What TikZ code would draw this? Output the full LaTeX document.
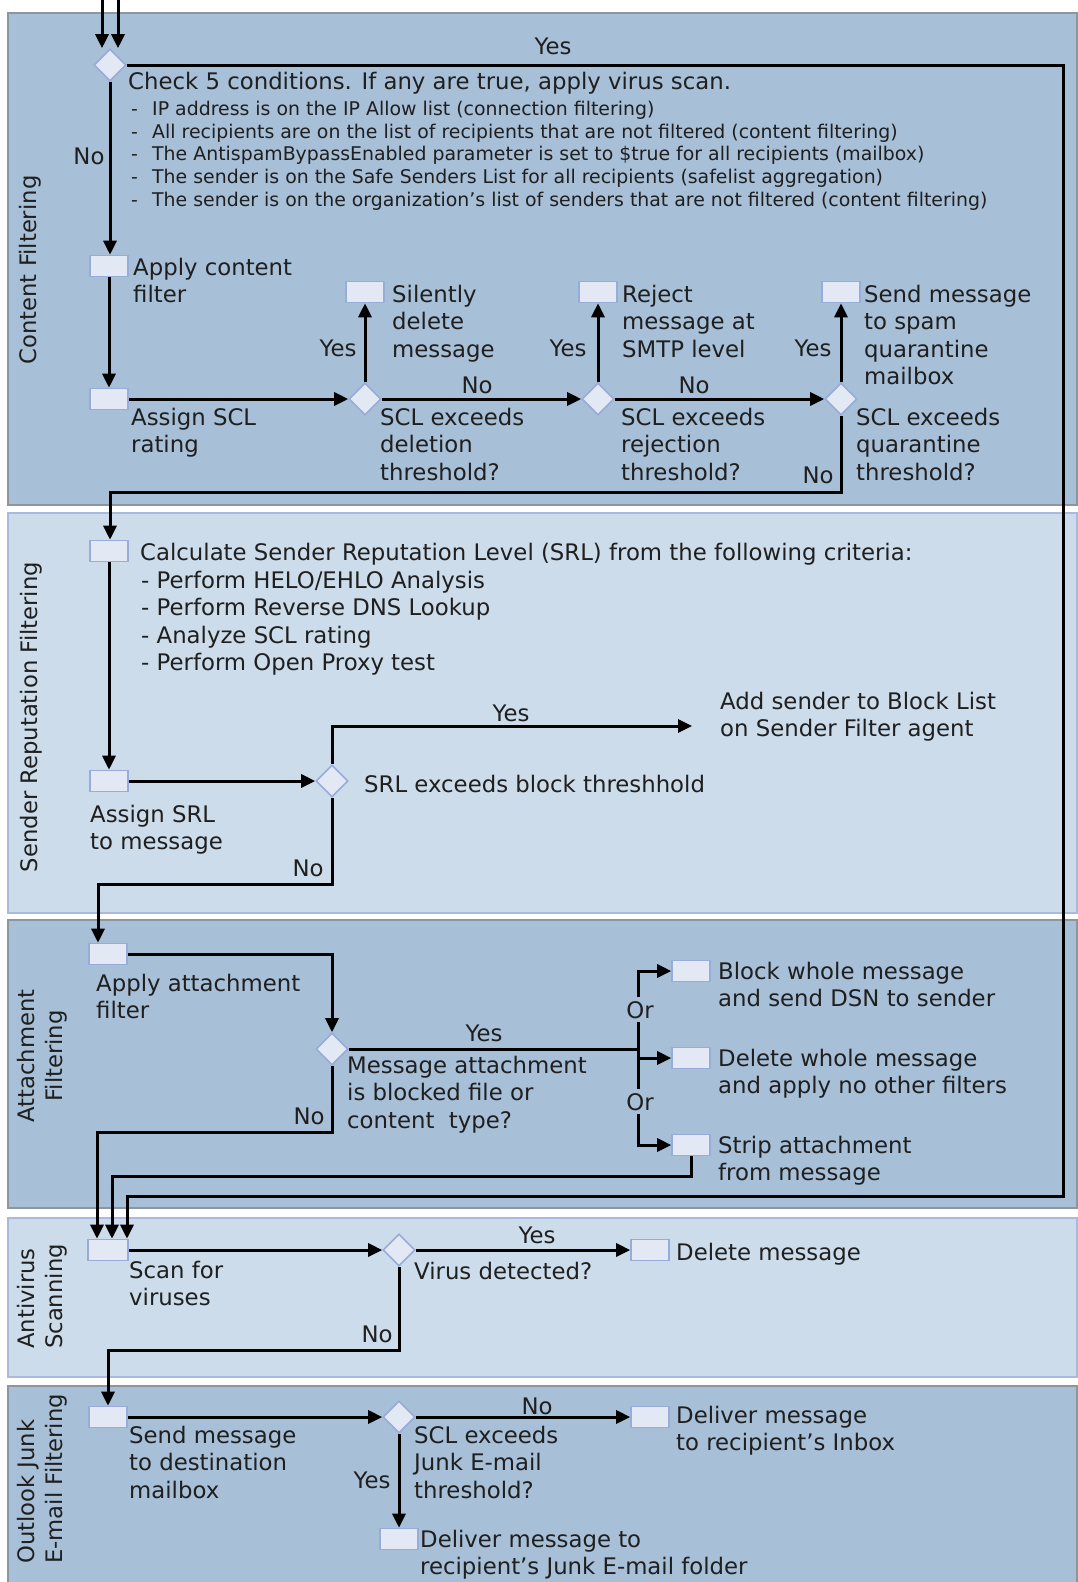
\documentclass[tikz,border=0pt]{standalone}
\usepackage{fontspec}
\setmainfont{DejaVu Sans}
\usetikzlibrary{arrows.meta,shapes.geometric}

\definecolor{lanedark}{HTML}{A7BFD7}
\definecolor{lanelight}{HTML}{CCDCEA}
\definecolor{edgegray}{HTML}{8C969F}
\definecolor{edgeblue}{HTML}{A9B9DF}
\definecolor{boxfill}{HTML}{E2E9F4}
\definecolor{boxedge}{HTML}{98ACDA}
\definecolor{ink}{HTML}{1F1F1F}

\newcommand{\dashitem}{\makebox[21pt][l]{-}}

\begin{document}
\begin{tikzpicture}[x=1pt,y=-1pt,
  lanedk/.style={fill=lanedark,draw=edgegray,line width=1.4pt},
  lanelt/.style={fill=lanelight,draw=edgeblue,line width=1.4pt},
  stepbox/.style={rectangle,fill=boxfill,draw=boxedge,line width=1.6pt,minimum width=38pt,minimum height=21pt,inner sep=0pt},
  decide/.style={diamond,fill=boxfill,draw=boxedge,line width=1.6pt,minimum width=32pt,minimum height=32pt,inner sep=0pt,aspect=1},
  flow/.style={line width=3pt,draw=black,-{Triangle[length=14pt,width=13pt]}},
  wire/.style={line width=3pt,draw=black},
  txt/.style={anchor=north west,inner sep=0pt,align=left,text=ink,yshift=1pt,font=\fontsize{22.8pt}{27.3pt}\selectfont},
  one/.style={anchor=base west,inner sep=0pt,text=ink,yshift=-1pt,font=\fontsize{22.8pt}{27.3pt}\selectfont},
  tag/.style={anchor=base,inner sep=0pt,text=ink,yshift=-1pt,font=\fontsize{22.8pt}{27.3pt}\selectfont},
  small/.style={anchor=north west,inner sep=0pt,align=left,text=ink,yshift=0.7pt,font=\fontsize{18.9pt}{22.7pt}\selectfont},
  lanename/.style={rotate=90,inner sep=0pt,text=ink,font=\fontsize{22.7pt}{27.5pt}\selectfont},
]
\useasboundingbox (0,0) rectangle (1078,1582);
\fill[white] (0,0) rectangle (1078,1582);
\clip (0,0) rectangle (1078,1582);

% swim lanes
\draw[lanedk] (8,13) rectangle (1077,505);
\draw[lanelt] (8,513) rectangle (1077,913);
\draw[lanedk] (8,920) rectangle (1077,1208);
\draw[lanelt] (8,1218) rectangle (1077,1377);
\draw[lanedk] (8,1386) rectangle (1077,1600);

% lane titles
\node[lanename] (lnContent) at (30,270) {Content Filtering};
\node[lanename] (lnSender) at (31,717) {Sender Reputation Filtering};
\node[lanename,align=center] (lnAttach) at (42,1056) {Attachment\\Filtering};
\node[lanename,align=left,anchor=west] (lnAV) at (42,1349) {Antivirus\\Scanning};
\node[lanename,align=left,anchor=west] (lnJunk) at (42,1564) {Outlook Junk\\E-mail Filtering};

% ---------- content filtering ----------
\node[decide] (d0) at (110,65) {};
\coordinate (in1) at (102,0);
\coordinate (in2) at (118,0);
\node[tag] (yes0) at (553,53.5) {Yes};
\node[one] (chk) at (128,88.5) {Check 5 conditions. If any are true, apply virus scan.};
\node[small] (crit) at (131,101.5) {\dashitem IP address is on the IP Allow list (connection filtering)\\
\dashitem All recipients are on the list of recipients that are not filtered (content filtering)\\
\dashitem The AntispamBypassEnabled parameter is set to \$true for all recipients (mailbox)\\
\dashitem The sender is on the Safe Senders List for all recipients (safelist aggregation)\\
\dashitem The sender is on the organization’s list of senders that are not filtered (content filtering)};
\node[tag] (no0) at (89,163.5) {No};

\node[stepbox] (b1) at (109,266) {};
\node[txt] (t1) at (133,259) {Apply content\\filter};
\node[stepbox] (b2) at (109,399) {};
\node[txt] (t2) at (131,409) {Assign SCL\\rating};

\node[decide] (d1) at (365,399) {};
\node[stepbox] (s1) at (365,292) {};
\node[txt] (t3) at (392,286) {Silently\\delete\\message};
\node[tag] (yes1) at (338,355.5) {Yes};
\node[txt] (t4) at (380,409) {SCL exceeds\\deletion\\threshold?};
\node[tag] (no1) at (477,392) {No};

\node[decide] (d2) at (598,399) {};
\node[stepbox] (s2) at (598,292) {};
\node[txt] (t5) at (622,286) {Reject\\message at\\SMTP level};
\node[tag] (yes2) at (568,355.5) {Yes};
\node[txt] (t6) at (621,409) {SCL exceeds\\rejection\\threshold?};
\node[tag] (no2) at (694,392) {No};

\node[decide] (d3) at (841,399) {};
\node[stepbox] (s3) at (841,292) {};
\node[txt] (t7) at (864,286) {Send message\\to spam\\quarantine\\mailbox};
\node[tag] (yes3) at (813,355.5) {Yes};
\node[txt] (t8) at (856,409) {SCL exceeds\\quarantine\\threshold?};
\node[tag] (no3) at (818,482.5) {No};

% ---------- sender reputation ----------
\node[stepbox] (c1) at (109,551) {};
\node[one] (t9) at (140,559.5) {Calculate Sender Reputation Level (SRL) from the following criteria:};
\node[txt] (t10) at (141,572) {- Perform HELO/EHLO Analysis\\- Perform Reverse DNS Lookup\\- Analyze SCL rating\\- Perform Open Proxy test};
\node[stepbox] (c2) at (109,781) {};
\node[txt] (t11) at (90,806) {Assign SRL\\to message};
\node[decide] (d4) at (332,781) {};
\node[one] (t12) at (364,791.5) {SRL exceeds block threshhold};
\coordinate (k2) at (692,726);
\node[tag] (yes4) at (511,720.5) {Yes};
\node[txt] (t13) at (720,693) {Add sender to Block List\\on Sender Filter agent};
\node[tag] (no4) at (308,875.5) {No};

% ---------- attachment filtering ----------
\node[stepbox] (a1) at (108,954) {};
\node[txt] (t14) at (96,975) {Apply attachment\\filter};
\node[decide] (d5) at (332,1049) {};
\node[txt] (t15) at (347,1057) {Message attachment\\is blocked file or\\content\ \ type?};
\node[tag] (yes5) at (484,1040.5) {Yes};
\node[tag] (no5) at (309,1123.5) {No};
\node[stepbox] (x1) at (691,971) {};
\node[stepbox] (x2) at (691,1058) {};
\node[stepbox] (x3) at (691,1145) {};
\node[txt] (t16) at (718,963) {Block whole message\\and send DSN to sender};
\node[txt] (t17) at (718,1050) {Delete whole message\\and apply no other filters};
\node[txt] (t18) at (718,1137) {Strip attachment\\from message};
\coordinate (bus) at (638,1049);
\coordinate (busmid) at (638,1058);

% ---------- antivirus scanning ----------
\node[stepbox,minimum width=40pt] (av1) at (108,1250) {};
\node[txt] (t19) at (129,1262) {Scan for\\viruses};
\node[decide] (d6) at (399,1250) {};
\node[one] (t20) at (414,1278.5) {Virus detected?};
\node[stepbox] (v1) at (650,1250) {};
\node[one] (t21) at (676,1259.5) {Delete message};
\node[tag] (yes6) at (537,1242.5) {Yes};
\node[tag] (no6) at (377,1341.5) {No};

% ---------- outlook junk e-mail filtering ----------
\node[stepbox] (j1) at (108,1417) {};
\node[txt] (t22) at (129,1427) {Send message\\to destination\\mailbox};
\node[decide] (d7) at (399,1417) {};
\node[txt] (t23) at (414,1427) {SCL exceeds\\Junk E-mail\\threshold?};
\node[stepbox] (j2) at (650,1417) {};
\node[tag] (no7) at (537,1413) {No};
\node[txt] (t24) at (676,1407) {Deliver message\\to recipient’s Inbox};
\node[stepbox] (j3) at (399,1539) {};
\node[tag] (yes7) at (372,1487) {Yes};
\node[txt] (t25) at (420,1531) {Deliver message to\\recipient’s Junk E-mail folder};

% ---------- connectors ----------
\draw[flow] (in1) -- (in1 |- d0.north);
\draw[flow] (in2) -- (in2 |- d0.north);
\draw[flow] (d0.south) -- (d0.south |- b1.north);
\draw[flow] (b1.south) -- (b2.north);
\draw[flow] (b2.east) -- (d1.west);
\draw[flow] (d1.north) -- (s1.south);
\draw[flow] (d1.east) -- (d2.west);
\draw[flow] (d2.north) -- (s2.south);
\draw[flow] (d2.east) -- (d3.west);
\draw[flow] (d3.north) -- (s3.south);
\coordinate (k1) at (841,492);
\coordinate (k1b) at (110,492);
\draw[flow] (d3.south) -- (k1) -- (k1b) -- (k1b |- c1.north);

\draw[flow] (c1.south) -- (c2.north);
\draw[flow] (c2.east) -- (d4.west);
\draw[flow] (d4.north) |- (k2);
\coordinate (k3) at (332,884);
\coordinate (k3b) at (98,884);
\draw[flow] (d4.south) -- (k3) -- (k3b) -- (k3b |- a1.north);

\draw[flow] (a1.east) -| (d5.north);
\draw[wire] (d5.east) -- (bus);
\draw[flow] (bus) |- (x1.west);
\draw[flow] (bus) |- (x3.west);
\draw[flow] (busmid) -- (x2.west);

\coordinate (r1) at (332,1132);
\coordinate (r1b) at (97,1132);
\draw[flow] (d5.south) -- (r1) -- (r1b) -- (r1b |- av1.north);
\coordinate (r2b) at (112,1176);
\draw[flow] (x3.south) |- (r2b) -- (r2b |- av1.north);
\coordinate (r3) at (1063,65);
\coordinate (r3b) at (1063,1196);
\coordinate (r3c) at (127,1196);
\draw[flow] (d0.east) -- (r3) -- (r3b) -- (r3c) -- (r3c |- av1.north);

\draw[flow] (av1.east) -- (d6.west);
\draw[flow] (d6.east) -- (v1.west);
\coordinate (r4) at (399,1350);
\coordinate (r4b) at (108,1350);
\draw[flow] (d6.south) -- (r4) -- (r4b) -- (j1.north);

\draw[flow] (j1.east) -- (d7.west);
\draw[flow] (d7.east) -- (j2.west);
\draw[flow] (d7.south) -- (j3.north);

% alternatives on the attachment bus
\node[tag,fill=lanedark,inner xsep=1pt,inner ysep=4pt] (or1) at (640,1017) {Or};
\node[tag,fill=lanedark,inner xsep=1pt,inner ysep=4pt] (or2) at (640,1109) {Or};
\end{tikzpicture}
\end{document}
